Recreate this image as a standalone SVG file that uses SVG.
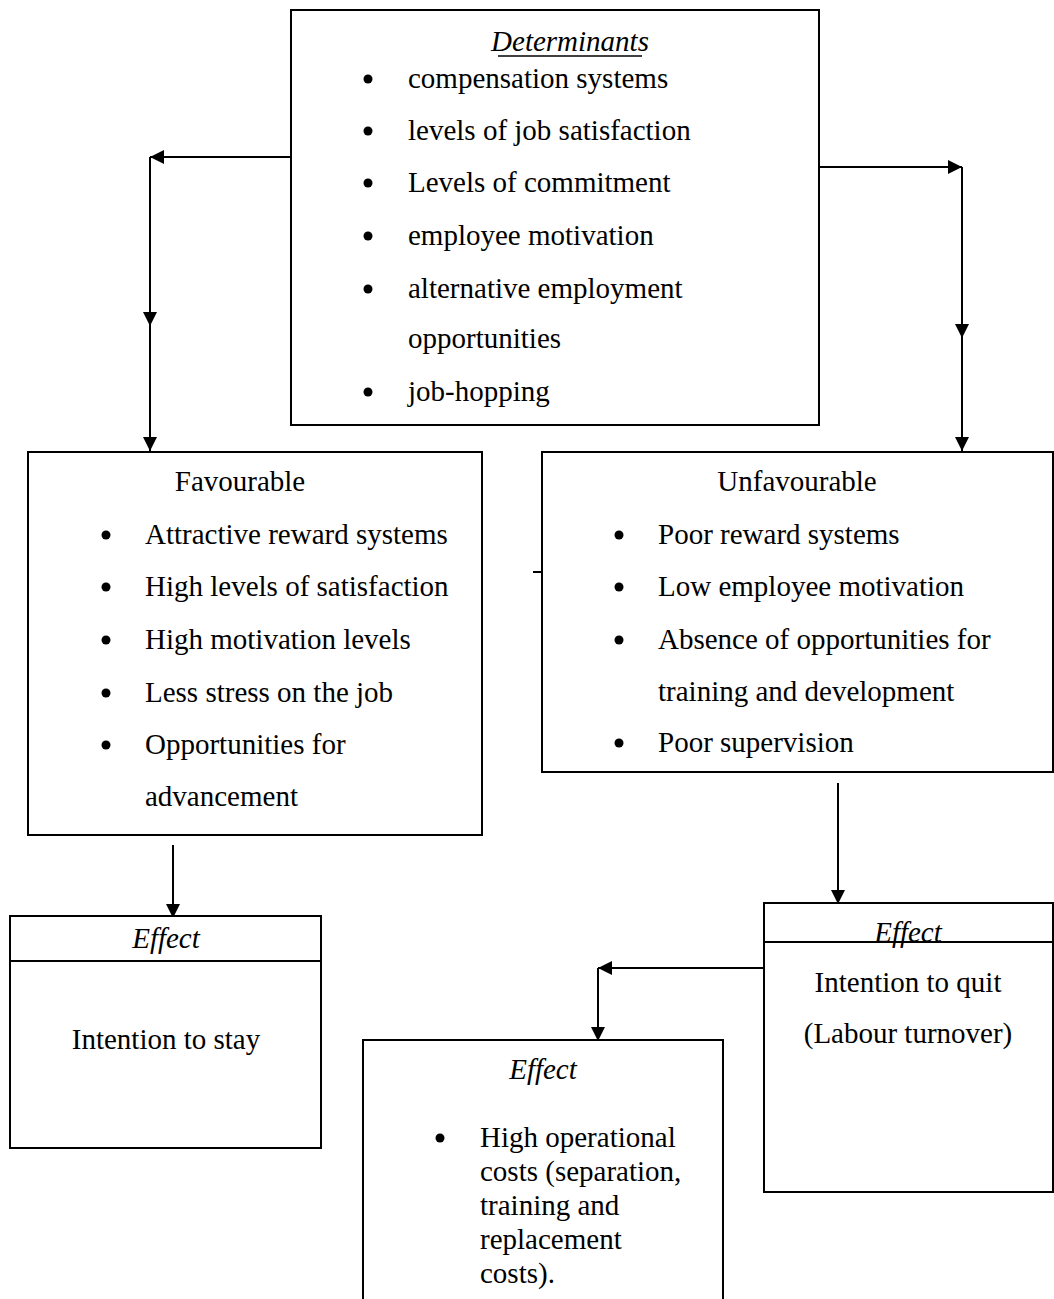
<svg xmlns="http://www.w3.org/2000/svg" width="1054" height="1299" viewBox="0 0 1054 1299">
<defs>
<marker id="ah" markerUnits="userSpaceOnUse" markerWidth="14" markerHeight="14" refX="14" refY="7" orient="auto" viewBox="0 0 14 14">
<path d="M0,0 L14,7 L0,14 z" fill="#000"/>
</marker>
<style>
.box{fill:#fff;stroke:#000;stroke-width:2}
.t{font-family:"Liberation Serif","Times New Roman",serif;font-size:29px;fill:#000}
.i{font-style:italic}
.c{text-anchor:middle}
.b{fill:#000}
.ln{fill:none;stroke:#000;stroke-width:2}
</style>
</defs>
<rect width="1054" height="1299" fill="#fff"/>
<g id="connectors">
<path class="ln" d="M291,157 H150" marker-end="url(#ah)"/>
<path class="ln" d="M150,157 V326" marker-end="url(#ah)"/>
<path class="ln" d="M150,320 V451" marker-end="url(#ah)"/>
<path class="ln" d="M819,167 H962" marker-end="url(#ah)"/>
<path class="ln" d="M962,167 V338" marker-end="url(#ah)"/>
<path class="ln" d="M962,332 V451" marker-end="url(#ah)"/>
<path class="ln" d="M533,572 H542"/>
<path class="ln" d="M173,845 V918" marker-end="url(#ah)"/>
<path class="ln" d="M838,783 V904" marker-end="url(#ah)"/>
<path class="ln" d="M764,968 H598" marker-end="url(#ah)"/>
<path class="ln" d="M598,968 V1041" marker-end="url(#ah)"/>
</g>
<g id="determinants">
<rect class="box" x="291" y="10" width="528" height="415"/>
<text class="t i c" x="570" y="51">Determinants</text>
<line x1="498" y1="56" x2="642" y2="56" stroke="#000" stroke-width="1.5"/>
<circle class="b" cx="368" cy="79" r="4.5"/><text class="t" x="408" y="88">compensation systems</text>
<circle class="b" cx="368" cy="131" r="4.5"/><text class="t" x="408" y="140">levels of job satisfaction</text>
<circle class="b" cx="368" cy="183" r="4.5"/><text class="t" x="408" y="192">Levels of commitment</text>
<circle class="b" cx="368" cy="236" r="4.5"/><text class="t" x="408" y="245">employee motivation</text>
<circle class="b" cx="368" cy="289" r="4.5"/><text class="t" x="408" y="298">alternative employment</text>
<text class="t" x="408" y="348">opportunities</text>
<circle class="b" cx="368" cy="392" r="4.5"/><text class="t" x="408" y="401">job-hopping</text>
</g>
<g id="favourable">
<rect class="box" x="28" y="452" width="454" height="383"/>
<text class="t c" x="240" y="491">Favourable</text>
<circle class="b" cx="106" cy="535" r="4.5"/><text class="t" x="145" y="544">Attractive reward systems</text>
<circle class="b" cx="106" cy="587" r="4.5"/><text class="t" x="145" y="596">High levels of satisfaction</text>
<circle class="b" cx="106" cy="640" r="4.5"/><text class="t" x="145" y="649">High motivation levels</text>
<circle class="b" cx="106" cy="693" r="4.5"/><text class="t" x="145" y="702">Less stress on the job</text>
<circle class="b" cx="106" cy="745" r="4.5"/><text class="t" x="145" y="754">Opportunities for</text>
<text class="t" x="145" y="806">advancement</text>
</g>
<g id="unfavourable">
<rect class="box" x="542" y="452" width="511" height="320"/>
<text class="t c" x="797" y="491">Unfavourable</text>
<circle class="b" cx="619" cy="535" r="4.5"/><text class="t" x="658" y="544">Poor reward systems</text>
<circle class="b" cx="619" cy="587" r="4.5"/><text class="t" x="658" y="596">Low employee motivation</text>
<circle class="b" cx="619" cy="640" r="4.5"/><text class="t" x="658" y="649">Absence of opportunities for</text>
<text class="t" x="658" y="701">training and development</text>
<circle class="b" cx="619" cy="743" r="4.5"/><text class="t" x="658" y="752">Poor supervision</text>
</g>
<g id="effect-stay">
<rect class="box" x="10" y="916" width="311" height="232"/>
<line class="ln" x1="10" y1="961" x2="321" y2="961"/>
<text class="t i c" x="166" y="948">Effect</text>
<text class="t c" x="166" y="1049">Intention to stay</text>
</g>
<g id="effect-quit">
<rect class="box" x="764" y="903" width="289" height="289"/>
<line class="ln" x1="764" y1="942" x2="1053" y2="942"/>
<text class="t i c" x="908" y="942">Effect</text>
<text class="t c" x="908" y="992">Intention to quit</text>
<text class="t c" x="908" y="1043">(Labour turnover)</text>
</g>
<g id="effect-costs">
<path class="ln" d="M363,1299 V1040 H723 V1299"/>
<text class="t i c" x="543" y="1079">Effect</text>
<circle class="b" cx="440" cy="1138" r="4.5"/>
<text class="t" x="480" y="1147">High operational</text>
<text class="t" x="480" y="1181">costs (separation,</text>
<text class="t" x="480" y="1215">training and</text>
<text class="t" x="480" y="1249">replacement</text>
<text class="t" x="480" y="1283">costs).</text>
</g>
</svg>
